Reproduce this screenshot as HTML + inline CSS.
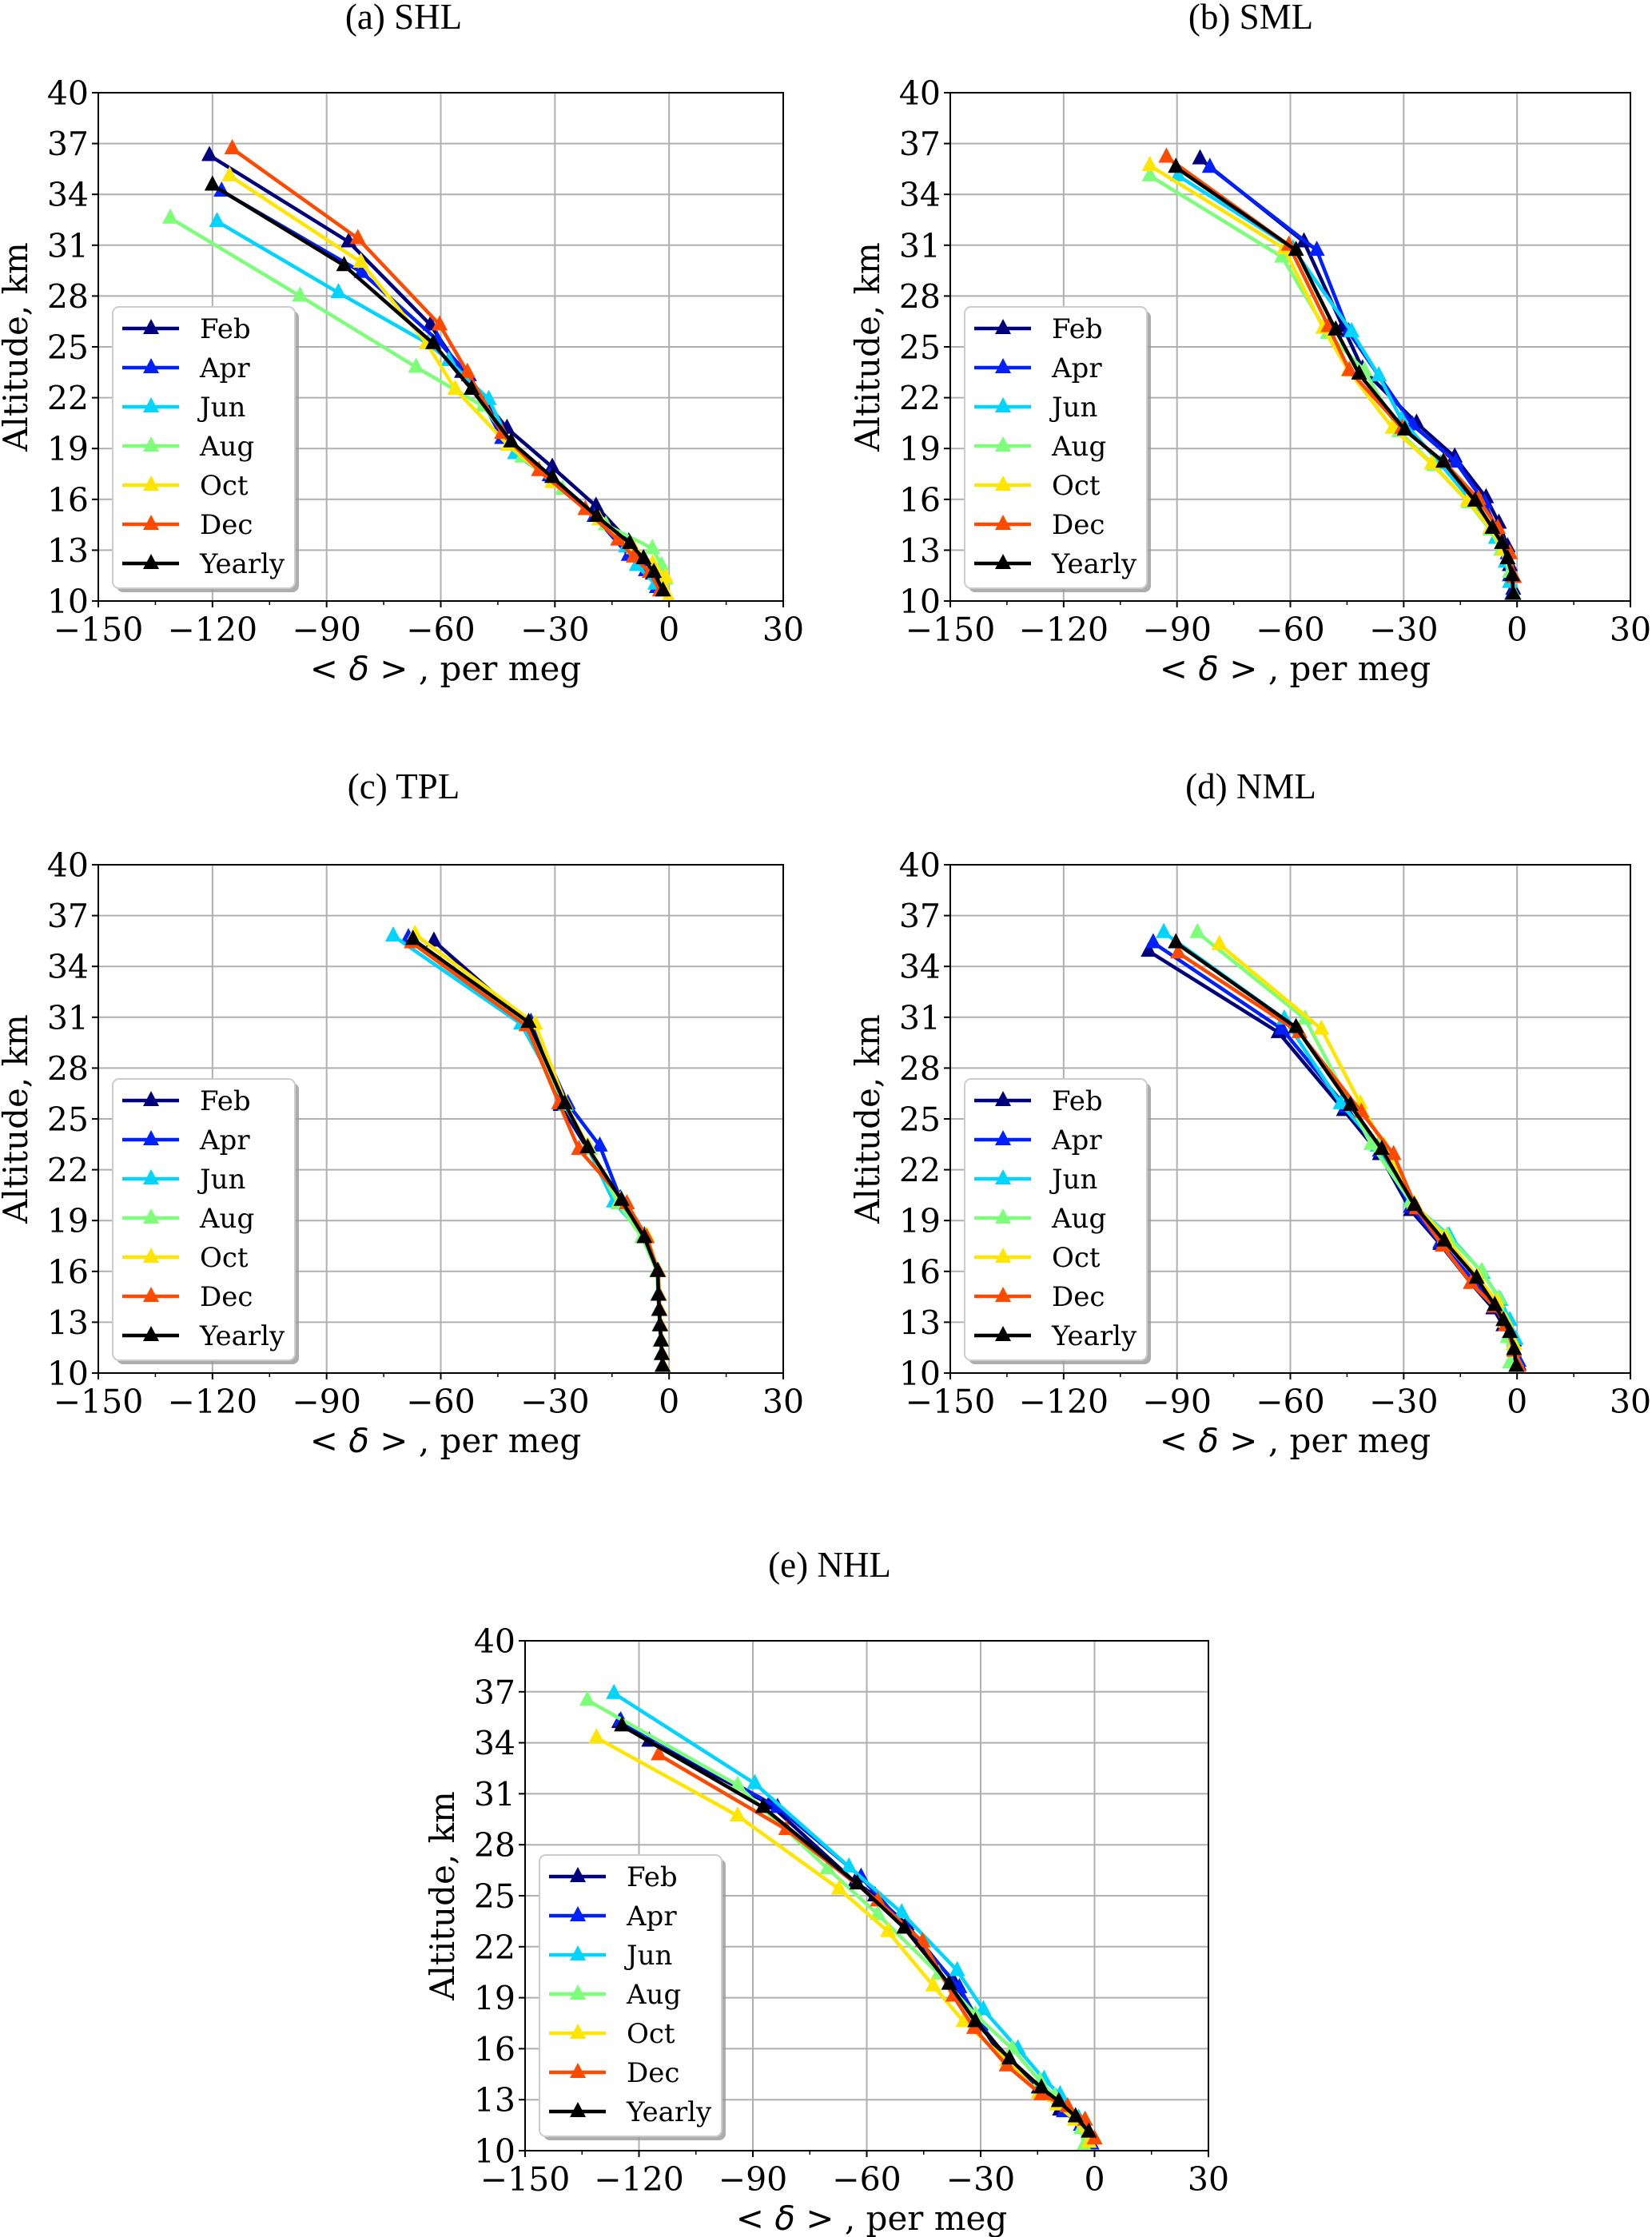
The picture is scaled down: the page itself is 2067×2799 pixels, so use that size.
<!DOCTYPE html>
<html><head><meta charset="utf-8">
<style>
html,body{margin:0;padding:0;background:#fff;}
svg{display:block;}
</style></head>
<body>
<svg id="fig" width="2067" height="2799" viewBox="0 0 2067 2799" xmlns="http://www.w3.org/2000/svg"></svg>
<script>
// Series order: Feb, Apr, Jun, Aug, Oct, Dec, Yearly
const seriesNames = ["Feb","Apr","Jun","Aug","Oct","Dec","Yearly"];
const seriesColors = ["#00007f","#0020ff","#00d4ff","#7dff7a","#ffe500","#ff4a00","#000000"];
const xTicks = [-150,-120,-90,-60,-30,0,30];
const yTicks = [10,13,16,19,22,25,28,31,34,37,40];
const panelTitles = ["(a) SHL","(b) SML","(c) TPL","(d) NML","(e) NHL"];

// (a) SHL
const shlDelta = [
 [-120.8,-84.2,-62.7,-54.4,-42.6,-30.7,-19.2,-10.6,-7,-4.3,-2.2],
 [-117.6,-80.8,-60.9,-52.6,-43.9,-31.4,-19.6,-10.6,-6.1,-3.2],
 [-118.8,-86.9,-63.4,-57.9,-47.4,-40.5,-30,-18.3,-11.3,-8.5,-3.6],
 [-131.1,-97,-66.5,-48.9,-38.6,-28,-16.6,-4.4,-2,-1],
 [-115.5,-81,-63.7,-56.2,-42.3,-30.7,-18.3,-9.3,-4.3,-0.9,-0.2],
 [-114.8,-81.8,-60.3,-53,-43.9,-34.2,-22,-13.4,-9.3,-5.1,-2.4],
 [-120,-85.4,-62,-51.9,-41.5,-30.7,-19,-10.3,-6.7,-4,-1.6]
];
const shlAlt = [
 [36.3,31.2,26.3,23.5,20.2,17.9,15.6,13.5,12.4,11.6,10.8],
 [34.2,29.4,25.4,23.3,19.6,17.4,15,12.7,11.8,10.8],
 [32.4,28.2,25.2,24.2,21.9,18.7,17,14.8,13.2,12.1,11],
 [32.6,28,23.8,21.5,18.5,16.6,14.5,13.1,12.1,11.3],
 [35.1,30,25.2,22.5,19.2,17,14.8,13.1,12.2,11.4,10.2],
 [36.7,31.4,26.3,23.5,19.9,17.7,15.4,13.6,12.6,11.7,10.6],
 [34.55,29.8,25.2,22.5,19.4,17.3,15,13.4,12.5,11.7,10.6]
];
// (b) SML
const smlDelta = [
 [-83.9,-56.4,-46.1,-40.9,-26.6,-16.5,-8.2,-4.8,-2.5,-1.9,-1],
 [-81.3,-53,-44.6,-27.7,-16.2,-8.6,-2.5,-1.9,-1.3],
 [-89.7,-59.3,-43.8,-36.6,-30.6,-20.3,-11.7,-5.6,-3,-1.9],
 [-97.2,-62.2,-50.1,-40.4,-31.2,-22,-12.8,-7.1,-4.2,-1.9,-0.8],
 [-97.2,-61.6,-51.3,-44.6,-32.9,-22.6,-13.1,-7.1,-3.6,-1.3],
 [-92.8,-60.4,-49.9,-44.4,-30.4,-19.3,-10.2,-5.1,-1.9,-0.8],
 [-90.3,-58.5,-48,-41.8,-29.7,-19.5,-11.1,-6.5,-4,-2.5,-1.3,-1]
];
const smlAlt = [
 [36.1,31.2,26.2,23.7,20.5,18.5,16.1,14.6,13.2,12.1,10.7],
 [35.6,30.7,25.9,20.4,18.2,15.8,12.8,11.5,10.4],
 [35.1,30.8,25.9,23.3,20.7,18.1,15.8,13.7,12.3,11.1],
 [35.1,30.3,25.8,23.6,20,18,15.8,14.2,13,11.7,10.4],
 [35.7,30.8,26.1,23.6,20.2,18.1,15.9,14.3,13,11.5],
 [36.2,31,26.2,23.6,20.2,18.2,16,14.3,12.8,11.4],
 [35.6,30.7,26,23.4,20.1,18.2,15.9,14.3,13.4,12.5,11.5,10.4]
];
// (c) TPL
const tplDelta = [
 [-61.8,-36.9,-28.5,-21.6,-12.8,-6.5,-3,-2.8,-2.6,-2.4,-2.1,-1.9,-1.7],
 [-68.5,-36.3,-26.6,-18.2,-12.8,-5.9,-2.8,-2.6,-2.5,-2.3,-2.1,-1.9,-1.7],
 [-72.5,-38.9,-27.2,-21.4,-14.5,-6.7,-3.1,-2.9,-2.7,-2.5,-2.2,-2,-1.8],
 [-67.3,-36.9,-27.7,-20.8,-13.4,-7.1,-3.2,-2.9,-2.7,-2.5,-2.2,-2,-1.8],
 [-66.8,-35.2,-27.2,-21.4,-12.8,-5.9,-2.8,-2.6,-2.4,-2.2,-2,-1.8,-1.6],
 [-67.6,-37.5,-28.9,-23.7,-11.1,-5.9,-2.9,-2.7,-2.5,-2.3,-2.1,-1.9,-1.7],
 [-67.3,-36.9,-27.4,-21.4,-12.5,-6.5,-3,-2.8,-2.6,-2.4,-2.1,-1.9,-1.7]
];
const tplAlt = [
 [35.5,30.6,25.8,23.3,20.1,18.1,16,14.6,13.7,12.8,11.9,11.1,10.4],
 [35.7,30.7,25.9,23.4,20.3,18,16,14.6,13.7,12.8,11.9,11.1,10.4],
 [35.8,30.6,25.8,23.3,20.1,18.1,16,14.6,13.7,12.8,11.9,11.1,10.4],
 [35.5,30.6,25.9,23.2,20,18,16,14.6,13.7,12.8,11.9,11.1,10.4],
 [35.9,30.6,25.9,23.4,20.2,18.1,16,14.6,13.7,12.8,11.9,11.1,10.4],
 [35.4,30.5,25.9,23.2,20,18,16,14.6,13.7,12.8,11.9,11.1,10.4],
 [35.6,30.7,25.9,23.3,20.2,18,16,14.6,13.7,12.8,11.9,11.1,10.4]
];
// (d) NML
const nmlDelta = [
 [-97.5,-63.1,-45.8,-36.3,-28.1,-20.3,-12.2,-6.3,-3.6,-0.8,0.4],
 [-96.3,-62.2,-45.3,-36.3,-28.1,-20.3,-11.7,-5.9,-3,-0.8,0.4],
 [-93.5,-61.6,-46.7,-36.9,-28.3,-18,-9.1,-4.4,-1.9,-0.4,-0.2],
 [-84.6,-56.1,-38.6,-28.1,-18.5,-9.4,-4.8,-3,-2.5,-1.9],
 [-78.8,-51.8,-41.5,-35.2,-27.2,-19.1,-10.5,-5.3,-3,-0.8],
 [-89.7,-57.6,-41.2,-32.7,-26.6,-19.7,-12.2,-5.9,-3,-0.8,0.4],
 [-90.3,-58.5,-44.1,-35.8,-27.2,-19.3,-10.7,-5.9,-3.6,-1.9,-0.8,-0.2]
];
const nmlAlt = [
 [34.9,30.1,25.5,22.9,19.6,17.6,15.3,13.8,12.8,11.7,10.5],
 [35.4,30.3,25.7,23.1,19.8,17.7,15.5,14,13,11.9,10.7],
 [36,30.9,25.9,23.4,20.1,18.1,15.9,14.3,13.1,12,10.7],
 [36,30.9,23.5,20.1,18.1,16,14.4,13.1,12.1,10.6],
 [35.3,30.3,25.9,23.4,20,18,15.7,14.2,13,11.7],
 [34.8,30.1,25.4,22.9,19.7,17.5,15.3,13.9,12.8,11.3,10.4],
 [35.4,30.4,25.8,23.2,19.9,17.8,15.6,14,13.1,12.4,11.4,10.4]
];
// (e) NHL
const nhlDelta = [
 [-125.2,-117.3,-85.6,-63.1,-57.8,-49.5,-37,-30.7,-23.1,-14.7,-9.1,-4.2,-0.7],
 [-124.8,-83.5,-61.5,-49.5,-35.6,-30,-21.7,-14,-8.1,-3.6,-0.8],
 [-126.6,-89.5,-64.7,-50.8,-36.2,-29.3,-20.2,-13.3,-9.1,-4.2,-1.5],
 [-133.6,-94,-70.3,-57.1,-41.1,-31.4,-21.7,-14.4,-10.5,-3.5,-2.8],
 [-131.2,-94,-67.3,-54.4,-42.5,-34.5,-23.1,-14.7,-9.9,-5.2,-1.5],
 [-114.8,-81.2,-57.1,-45.3,-37.2,-31.7,-23.1,-14,-7.1,-2.5,0],
 [-124.5,-87.3,-62.5,-50.1,-38.3,-31.4,-22.4,-14,-9.4,-5,-1.5]
];
const nhlAlt = [
 [35.2,34.1,30.4,25.8,25,23.3,19.9,17.7,15,13.7,12.4,11.9,10.7],
 [35.3,30.2,26.1,23.1,19.6,17.4,15.1,13.5,12.3,11.5,10.4],
 [36.9,31.6,26.7,24,20.6,18.3,16,14.2,13.3,11.9,10.7],
 [36.5,31.5,26.6,23.9,20.4,18,16,14.1,13.2,11.3,10.3],
 [34.3,29.7,25.4,22.9,19.7,17.6,15.3,13.4,12.7,11.8,10.5],
 [33.3,28.9,24.7,22.3,19.1,17.2,15,13.3,12.6,11.8,10.7],
 [35,30.2,25.7,23.1,19.8,17.6,15.4,13.7,12.9,12,11.1]
];

const NS = "http://www.w3.org/2000/svg";
const svg = document.getElementById("fig");
function mk(tag, attrs, parent){
  const e = document.createElementNS(NS, tag);
  for (const k in attrs) e.setAttribute(k, attrs[k]);
  (parent||svg).appendChild(e);
  return e;
}
const panels = [
  {left:123, top:116, w:857, h:636, tx:505, ty:21, delta:shlDelta, alt:shlAlt, key:"shl"},
  {left:1189, top:116, w:851, h:636, tx:1565, ty:21, delta:smlDelta, alt:smlAlt, key:"sml"},
  {left:123, top:1082, w:857, h:636, tx:505, ty:984, delta:tplDelta, alt:tplAlt, key:"tpl"},
  {left:1189, top:1082, w:851, h:636, tx:1565, ty:984, delta:nmlDelta, alt:nmlAlt, key:"nml"},
  {left:657, top:2053, w:855, h:638, tx:1038, ty:1958, delta:nhlDelta, alt:nhlAlt, key:"nhl"}
];
const serif = "'DejaVu Serif', serif";

panels.forEach((p, pi) => {
  const g = mk("g", {});
  
  
  const sx = v => p.left + (v - (-150)) / 180 * p.w;
  const sy = v => p.top + p.h - (v - 10) / 30 * p.h;

  const title = mk("text", {x:p.tx, y:p.ty+15, "text-anchor":"middle", "font-family":"'Liberation Serif', serif", "font-size":45, fill:"#000"}, g);
  title.textContent = panelTitles[pi];
  
  

  const grid = mk("g", {stroke:"#b0b0b0", "stroke-width":2}, g);
  
  
  xTicks.forEach(t => mk("line", {x1:sx(t), x2:sx(t), y1:p.top, y2:p.top+p.h}, grid));
  yTicks.forEach(t => mk("line", {x1:p.left, x2:p.left+p.w, y1:sy(t), y2:sy(t)}, grid));

  const xt = mk("g", {}, g);
  
  
  xTicks.forEach(t => {
    mk("line", {x1:sx(t), x2:sx(t), y1:p.top+p.h, y2:p.top+p.h+8, stroke:"#000", "stroke-width":2}, xt);
    const tl = mk("text", {x:sx(t), y:p.top+p.h+50, "text-anchor":"middle", "font-family":serif, "font-size":41, fill:"#000"}, xt);
    tl.textContent = t < 0 ? "\u2212" + Math.abs(t) : String(t);
    
    
  });
  for (let t = -135; t < 30; t += 30) {
    mk("line", {x1:sx(t), x2:sx(t), y1:p.top+p.h, y2:p.top+p.h+5, stroke:"#000", "stroke-width":1.5}, xt);
  }
  const yt = mk("g", {}, g);
  
  
  yTicks.forEach(t => {
    mk("line", {x1:p.left-8, x2:p.left, y1:sy(t), y2:sy(t), stroke:"#000", "stroke-width":2}, yt);
    const tl = mk("text", {x:p.left-12, y:sy(t)+15, "text-anchor":"end", "font-family":serif, "font-size":41, fill:"#000"}, yt);
    tl.textContent = String(t);
    
    
  });

  const yl = mk("text", {x:0, y:0, transform:`translate(${p.left-89},${p.top+p.h/2}) rotate(-90)`, "text-anchor":"middle", "font-family":serif, "font-size":42, fill:"#000"}, g);
  yl.textContent = "Altitude, km";
  
  
  const xl = mk("text", {x:p.left + p.w/2 + 6, y:p.top+p.h+99, "text-anchor":"middle", "font-size":42, fill:"#000"}, g);
  
  
  const s1 = mk("tspan", {"font-family":"'DejaVu Sans', sans-serif"}, xl); s1.textContent = "< ";
  const s2 = mk("tspan", {"font-family":"'DejaVu Sans', sans-serif", "font-style":"italic"}, xl); s2.textContent = "\u03b4";
  const s3 = mk("tspan", {"font-family":"'DejaVu Sans', sans-serif"}, xl); s3.textContent = " >";
  const s4 = mk("tspan", {"font-family":serif}, xl); s4.textContent = " , per meg";

  const clipId = "clip" + pi;
  const cp = mk("clipPath", {id:clipId}, g);
  mk("rect", {x:p.left-12, y:p.top-12, width:p.w+24, height:p.h+12}, cp);
  const sg = mk("g", {"clip-path":`url(#${clipId})`}, g);
  p.delta.forEach((arr, si) => {
    const ser = mk("g", {}, sg);
    
    
    const pts = arr.map((v, i) => sx(v).toFixed(1) + "," + sy(p.alt[si][i]).toFixed(1)).join(" ");
    mk("polyline", {points:pts, fill:"none", stroke:seriesColors[si], "stroke-width":4.5, "stroke-linejoin":"round"}, ser);
    arr.forEach((v, i) => {
      const cx = sx(v), cy = sy(p.alt[si][i]);
      const tri = mk("polygon", {points:`${cx},${cy-12} ${cx-10},${cy+7} ${cx+10},${cy+7}`, fill:seriesColors[si]}, ser);
      
      
    });
  });

  const fr = mk("rect", {x:p.left, y:p.top, width:p.w, height:p.h, fill:"none", stroke:"#000", "stroke-width":2}, g);
  
  

  const lx = p.left + 18, ly = p.top + 268;
  const lg = mk("g", {}, g);
  
  
  mk("rect", {x:lx+5, y:ly+5, width:228, height:352, rx:8, fill:"#999", opacity:0.8}, lg);
  mk("rect", {x:lx, y:ly, width:228, height:352, rx:8, fill:"#fff", stroke:"#ccc", "stroke-width":2}, lg);
  seriesNames.forEach((n, si) => {
    const ey = ly + 27 + si * 49;
    const en = mk("g", {}, lg);
    
    
    mk("line", {x1:lx+12, x2:lx+83, y1:ey, y2:ey, stroke:seriesColors[si], "stroke-width":4.5}, en);
    const cx = lx+48;
    mk("polygon", {points:`${cx},${ey-12} ${cx-10},${ey+7} ${cx+10},${ey+7}`, fill:seriesColors[si]}, en);
    const t = mk("text", {x:lx+109, y:ey+12, "font-family":serif, "font-size":34, fill:"#000"}, en);
    t.textContent = n;
  });
});
</script>
</body></html>
